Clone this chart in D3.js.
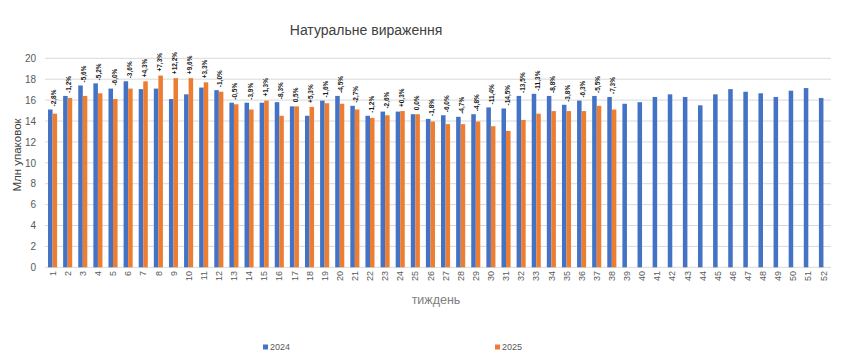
<!DOCTYPE html>
<html><head><meta charset="utf-8">
<script src="https://cdn.jsdelivr.net/npm/d3@7"></script>
<style>body{margin:0;background:#fff}svg{display:block}</style>
</head><body>
<svg id="c" width="850" height="360"></svg>
<script>
const weeks = d3.range(1, 53).map(String);
const v2024 = [15.1,16.4,17.4,17.6,17.1,17.8,17.05,17.1,16.1,16.55,
  17.2,16.95,15.75,15.75,15.75,15.8,15.4,14.5,15.95,16.4,
  15.45,14.5,14.9,14.9,14.65,14.2,14.55,14.4,14.65,15.3,
  15.2,16.4,16.6,16.4,15.55,15.95,16.4,16.3,15.65,15.8,
  16.3,16.55,16.3,15.5,16.55,17.05,16.8,16.65,16.3,16.9,17.15,16.2];
const v2025 = [14.7,16.2,16.4,16.65,16.1,17.1,17.8,18.35,18.1,18.1,
  17.7,16.8,15.6,15.1,15.95,14.5,15.4,15.35,15.7,15.65,
  15.1,14.3,14.55,14.95,14.65,13.95,13.7,13.7,13.95,13.5,
  13.05,14.1,14.7,14.95,14.95,14.95,15.45,15.1];
const pctLabels = ["-2,8%","-1,2%","-5,6%","-5,2%","-6,0%","-3,6%","+4,3%","+7,3%","+12,2%","+9,6%",
  "+3,3%","-1,0%","-0,5%","-3,9%","+1,3%","-8,3%","0,5%","+5,3%","-1,6%","-4,5%",
  "-2,7%","-1,2%","-2,6%","+0,3%","0,0%","-1,8%","-6,0%","-4,7%","-4,8%","-11,4%",
  "-14,5%","-13,5%","-11,3%","-8,8%","-3,8%","-6,3%","-5,5%","-7,3%"];
const yTicks = [0,2,4,6,8,10,12,14,16,18,20];
const seriesNames = ["2024","2025"];
const colors = ["#4472C4","#ED7D31"];

const svg = d3.select("#c");
const font = "'Liberation Sans', Arial, sans-serif";
const x = d3.scaleBand().domain(weeks).range([45, 831]).paddingInner(0.4).paddingOuter(0.2);
const xs = d3.scaleBand().domain(seriesNames).range([0, x.bandwidth()]);
const y = d3.scaleLinear().domain([0, 20]).range([267.3, 58.3]);

svg.append("g").selectAll("line").data(yTicks).join("line")
  .attr("x1", 45).attr("x2", 831)
  .attr("y1", d => y(d)).attr("y2", d => y(d))
  .attr("stroke", "#d9d9d9").attr("stroke-width", 1);

const yAxis = svg.append("g").attr("transform", "translate(39,0)")
  .call(d3.axisLeft(y).tickValues(yTicks).tickSize(0).tickPadding(3));
yAxis.select(".domain").remove();
yAxis.selectAll("text").attr("font-family", font).attr("font-size", 10).attr("fill", "#595959");

const data24 = weeks.map((w, i) => ({w, v: v2024[i]}));
const data25 = v2025.map((v, i) => ({w: weeks[i], v}));
svg.append("g").selectAll("rect").data(data24).join("rect")
  .attr("x", d => x(d.w) + xs("2024")).attr("width", xs.bandwidth())
  .attr("y", d => y(d.v)).attr("height", d => y(0) - y(d.v)).attr("fill", colors[0]);
svg.append("g").selectAll("rect").data(data25).join("rect")
  .attr("x", d => x(d.w) + xs("2025")).attr("width", xs.bandwidth())
  .attr("y", d => y(d.v)).attr("height", d => y(0) - y(d.v)).attr("fill", colors[1]);

svg.append("g").selectAll("text").data(data25).join("text")
  .attr("transform", (d, i) => {
    const cx = x(d.w) + xs("2025") + xs.bandwidth() / 2 - 1;
    const cy = y(Math.max(d.v, v2024[i])) - 3;
    return `translate(${cx},${Math.min(cy, y(d.v) - 4)}) rotate(-90)`;
  })
  .attr("dy", "0.35em")
  .attr("font-family", font).attr("font-size", 6.5).attr("font-weight", "bold").attr("fill", "#1a1a1a")
  .text((d, i) => pctLabels[i]);

const xAxis = svg.append("g").attr("transform", "translate(0,271)")
  .call(d3.axisBottom(x).tickSize(0).tickPadding(0));
xAxis.select(".domain").remove();
xAxis.selectAll("text")
  .attr("font-family", font).attr("font-size", 9).attr("fill", "#595959")
  .attr("transform", "rotate(-90)").attr("text-anchor", "end")
  .attr("x", 0).attr("y", 0).attr("dy", "0.35em");

svg.append("text").attr("x", 366).attr("y", 35).attr("text-anchor", "middle")
  .attr("font-family", font).attr("font-size", 14).attr("fill", "#404040")
  .text("Натуральне вираження");
svg.append("text").attr("transform", "translate(21,155) rotate(-90)").attr("text-anchor", "middle")
  .attr("font-family", font).attr("font-size", 11.5).attr("fill", "#404040")
  .text("Млн упаковок");
svg.append("text").attr("x", 436).attr("y", 304).attr("text-anchor", "middle")
  .attr("font-family", font).attr("font-size", 12.5).attr("fill", "#808080")
  .text("тиждень");

const legX = [263, 495];
const leg = svg.append("g").selectAll("g").data(seriesNames).join("g")
  .attr("transform", (d, i) => `translate(${legX[i]},344.5)`);
leg.append("rect").attr("width", 5).attr("height", 5).attr("fill", (d, i) => colors[i]);
leg.append("text").attr("x", 7).attr("y", 5).attr("font-family", font).attr("font-size", 9)
  .attr("fill", "#595959").text(d => d);
</script>
</body></html>
